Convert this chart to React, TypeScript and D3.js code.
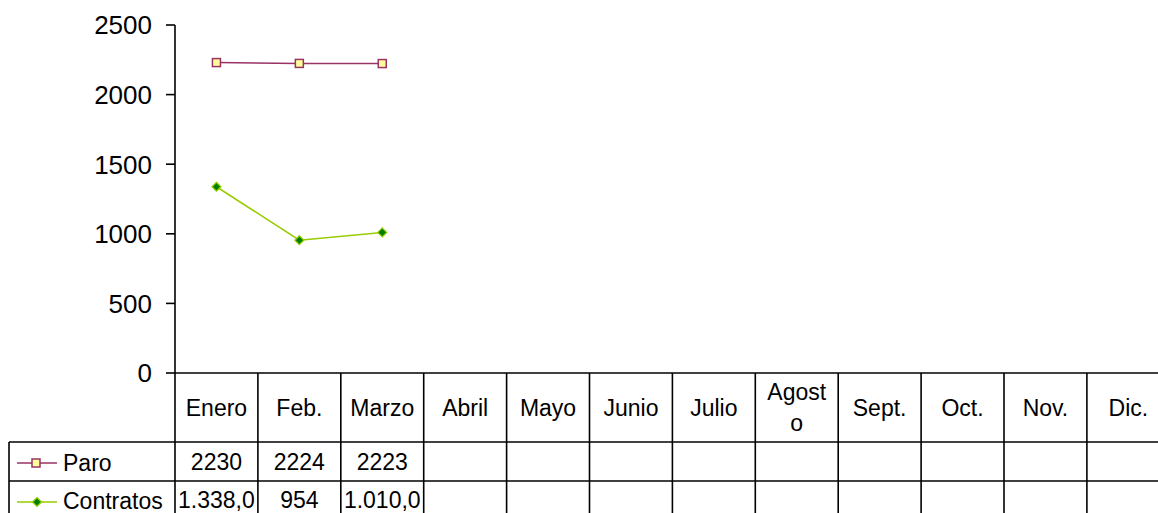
import React from 'react';
import * as d3 from 'd3';

// month categories (header row labels, "\n" = wrapped line as in the source table)
const months = ['Enero', 'Feb.', 'Marzo', 'Abril', 'Mayo', 'Junio', 'Julio', 'Agost\no', 'Sept.', 'Oct.', 'Nov.', 'Dic.'];
const paroValues = [2230, 2224, 2223];
const contratosValues = [1338, 954, 1010];
const paroLabels = ['2230', '2224', '2223'];
const contratosLabels = ['1.338,0', '954', '1.010,0'];
const yTicks = [0, 500, 1000, 1500, 2000, 2500];

const W = 1158;
const H = 513;
const plotLeft = 175;
const plotTop = 25;
const plotBottom = 373;
const colW = 82.9;
const headerBottom = 442;
const paroBottom = 481;
const contratosBottom = 520;
const legendLeft = 9;

const font = '"Liberation Sans", Arial, sans-serif';
const axisFont = 26;
const tableFont = 23;
const paroColor = '#993366';
const contratosColor = '#99CC00';

export default function App() {
  const x = d3.scaleBand<string>()
    .domain(months)
    .range([plotLeft, plotLeft + colW * months.length]);

  const y = d3.scaleLinear()
    .domain([0, 2500])
    .range([plotBottom, plotTop]);

  const cx = (i: number) => (x(months[i]) ?? 0) + x.bandwidth() / 2;

  const line = d3.line<number>()
    .x((_, i) => cx(i))
    .y(d => y(d));

  const stroke = '#000';
  const sw = 1.6;

  const diamond = (px: number, py: number, r: number) =>
    `M${px},${py - r}L${px + r},${py}L${px},${py + r}L${px - r},${py}Z`;

  return (
    <svg width={W} height={H} style={{ position: 'absolute', left: 0, top: 0, background: '#fff' }}>
      {/* y axis */}
      <line x1={plotLeft} x2={plotLeft} y1={plotTop} y2={contratosBottom} stroke={stroke} strokeWidth={sw} />
      {yTicks.map(t => (
        <g key={t}>
          <line x1={plotLeft - 9} x2={plotLeft} y1={y(t)} y2={y(t)} stroke={stroke} strokeWidth={sw} />
          <text x={152} y={y(t)} dy="0.36em" textAnchor="end" fontFamily={font} fontSize={axisFont} fill="#000">{t}</text>
        </g>
      ))}

      {/* table horizontal lines */}
      <line x1={plotLeft} x2={W} y1={plotBottom} y2={plotBottom} stroke={stroke} strokeWidth={sw} />
      <line x1={legendLeft} x2={W} y1={headerBottom} y2={headerBottom} stroke={stroke} strokeWidth={sw} />
      <line x1={legendLeft} x2={W} y1={paroBottom} y2={paroBottom} stroke={stroke} strokeWidth={sw} />
      <line x1={legendLeft} x2={legendLeft} y1={headerBottom} y2={contratosBottom} stroke={stroke} strokeWidth={sw} />

      {/* column separators and header labels */}
      {months.map((m, i) => {
        const x0 = x(m) ?? 0;
        const lines = m.split('\n');
        const mid = (plotBottom + headerBottom) / 2;
        const lh = 31;
        return (
          <g key={m}>
            <line x1={x0 + colW} x2={x0 + colW} y1={plotBottom} y2={contratosBottom} stroke={stroke} strokeWidth={sw} />
            {lines.map((l, j) => (
              <text key={j} x={cx(i)} y={mid + (j - (lines.length - 1) / 2) * lh} dy="0.36em"
                textAnchor="middle" fontFamily={font} fontSize={tableFont} fill="#000">{l}</text>
            ))}
          </g>
        );
      })}

      {/* row values */}
      {paroLabels.map((v, i) => (
        <text key={'p' + i} x={cx(i)} y={(headerBottom + paroBottom) / 2} dy="0.36em"
          textAnchor="middle" fontFamily={font} fontSize={tableFont} fill="#000">{v}</text>
      ))}
      {contratosLabels.map((v, i) => (
        <text key={'c' + i} x={cx(i)} y={(paroBottom + contratosBottom) / 2 - 1} dy="0.36em"
          textAnchor="middle" fontFamily={font} fontSize={tableFont} fill="#000">{v}</text>
      ))}

      {/* legend keys */}
      <line x1={17} x2={57} y1={463} y2={463} stroke={paroColor} strokeWidth={1.5} />
      <rect x={32} y={459} width={8} height={8} fill="#FFFF99" stroke={paroColor} strokeWidth={1.5} />
      <text x={63} y={463} dy="0.36em" fontFamily={font} fontSize={tableFont} fill="#000">Paro</text>
      <line x1={17} x2={57} y1={502} y2={502} stroke={contratosColor} strokeWidth={1.5} />
      <path d={diamond(37, 502, 4.5)} fill="#008000" stroke={contratosColor} strokeWidth={1.2} />
      <text x={63} y={501} dy="0.36em" fontFamily={font} fontSize={tableFont} fill="#000">Contratos</text>

      {/* series */}
      <path d={line(paroValues) ?? ''} fill="none" stroke={paroColor} strokeWidth={1.5} />
      {paroValues.map((v, i) => (
        <rect key={i} x={cx(i) - 4} y={y(v) - 4} width={8} height={8} fill="#FFFF99" stroke={paroColor} strokeWidth={1.5} />
      ))}
      <path d={line(contratosValues) ?? ''} fill="none" stroke={contratosColor} strokeWidth={1.5} />
      {contratosValues.map((v, i) => (
        <path key={i} d={diamond(cx(i), y(v), 4.5)} fill="#008000" stroke={contratosColor} strokeWidth={1.2} />
      ))}
    </svg>
  );
}
